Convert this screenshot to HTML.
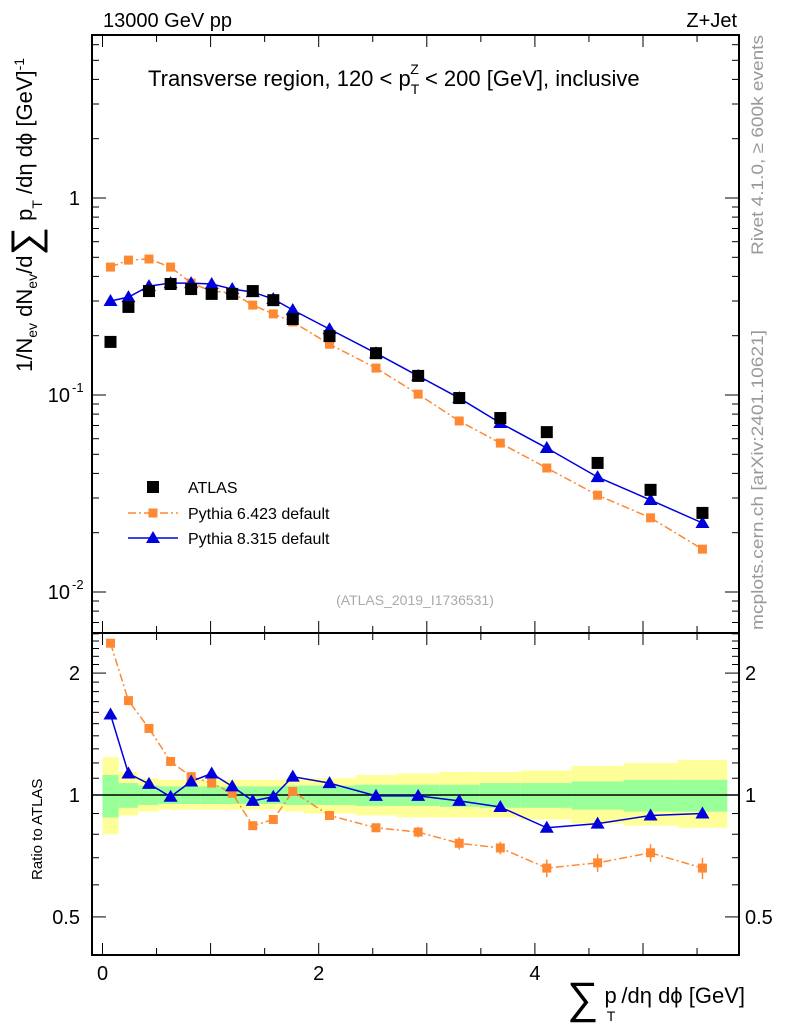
<!DOCTYPE html>
<html><head><meta charset="utf-8"><style>
body{margin:0;background:#fff;}
svg{display:block;font-family:"Liberation Sans",sans-serif;}
</style></head><body>
<svg id="c" width="786" height="1024" xmlns="http://www.w3.org/2000/svg">
<text x="103" y="27" font-size="20">13000 GeV pp</text>
<text x="737" y="27" font-size="20" text-anchor="end">Z+Jet</text>
<text x="148" y="86" font-size="22">Transverse region, 120 &lt; p<tspan font-size="14" dy="8">T</tspan><tspan font-size="14" dx="-9" dy="-20">Z</tspan><tspan dy="12"> &lt; 200 [GeV], inclusive</tspan></text>
<text transform="translate(763,255) rotate(-90)" font-size="17" fill="#999" textLength="220" lengthAdjust="spacingAndGlyphs">Rivet 4.1.0, ≥ 600k events</text>
<text transform="translate(763,630) rotate(-90)" font-size="17" fill="#999" textLength="300" lengthAdjust="spacingAndGlyphs">mcplots.cern.ch [arXiv:2401.10621]</text>
<text transform="translate(32,372) rotate(-90)" font-size="22">1/N<tspan font-size="14" dy="5">ev</tspan><tspan dy="-5"> dN</tspan><tspan font-size="14" dy="5">ev</tspan><tspan dy="-5">/d</tspan><tspan font-size="40" dy="7">∑</tspan><tspan dy="-7"> p</tspan><tspan font-size="14" dy="10">T</tspan><tspan dy="-10"> /dη dϕ  [GeV]</tspan><tspan font-size="14" dy="-8">-1</tspan></text>
<text transform="translate(42,880) rotate(-90)" font-size="15">Ratio to ATLAS</text>
<text x="745" y="1003" font-size="22" text-anchor="end"><tspan font-size="44" dy="10">∑</tspan><tspan dy="-10"> p</tspan><tspan font-size="14" dx="-10" dy="18">T</tspan><tspan dy="-18"> /dη dϕ [GeV]</tspan></text>
<text x="415" y="605" font-size="14" fill="#aaa" text-anchor="middle">(ATLAS_2019_I1736531)</text>
<g id="plot"></g>
</svg>
<script>
const xCenters=[0.074,0.24,0.43,0.63,0.82,1.01,1.20,1.39,1.58,1.76,2.10,2.53,2.92,3.30,3.68,4.11,4.58,5.07,5.55];
const binEdges=[0,0.15,0.33,0.52,0.72,0.91,1.1,1.3,1.49,1.68,1.86,2.34,2.72,3.12,3.49,3.87,4.34,4.82,5.32,5.78];
const atlas=[0.186,0.280,0.337,0.366,0.345,0.326,0.326,0.337,0.303,0.243,0.199,0.163,0.125,0.0965,0.0764,0.0648,0.0452,0.033,0.0252];
const py6=[0.446,0.484,0.490,0.446,0.370,0.337,0.330,0.286,0.258,0.235,0.181,0.137,0.101,0.0738,0.057,0.0426,0.031,0.0238,0.0165];
const py8=[0.300,0.314,0.357,0.370,0.370,0.366,0.345,0.333,0.307,0.270,0.216,0.163,0.125,0.0965,0.0721,0.0538,0.0383,0.0293,0.0224];
const r6=[2.37,1.71,1.46,1.21,1.11,1.07,1.01,0.84,0.87,1.02,0.89,0.83,0.81,0.76,0.74,0.66,0.68,0.72,0.66];
const r8=[1.58,1.13,1.065,0.99,1.08,1.13,1.05,0.967,0.99,1.11,1.07,0.995,0.995,0.967,0.934,0.83,0.85,0.89,0.90];
const greenHi=[1.12,1.07,1.055,1.05,1.05,1.05,1.05,1.05,1.05,1.055,1.055,1.06,1.06,1.06,1.07,1.07,1.08,1.09,1.09];
const greenLo=[0.88,0.93,0.945,0.95,0.95,0.95,0.95,0.95,0.95,0.945,0.945,0.94,0.94,0.935,0.93,0.93,0.92,0.91,0.91];
const yellowHi=[1.24,1.14,1.1,1.09,1.09,1.09,1.09,1.09,1.09,1.1,1.1,1.12,1.13,1.14,1.14,1.15,1.18,1.2,1.22];
const yellowLo=[0.80,0.89,0.91,0.92,0.92,0.92,0.92,0.92,0.92,0.91,0.90,0.89,0.88,0.88,0.88,0.87,0.85,0.84,0.83];
const err6=[0.01,0.01,0.01,0.01,0.01,0.01,0.01,0.02,0.02,0.02,0.02,0.025,0.03,0.035,0.035,0.05,0.05,0.05,0.06];
const xTickLabels=["0","2","4"];

const NS="http://www.w3.org/2000/svg";
const g=document.getElementById('plot');
function el(t,a,p){const e=document.createElementNS(NS,t);for(const k in a)e.setAttribute(k,a[k]);(p||g).appendChild(e);return e;}
const L=92,R=739,T=35,M=633,B=955;
const X=v=>102.5+v*108.1;
const Y=v=>198-197*Math.log10(v);
const YR=v=>795-405*Math.log10(v);

for(let i=0;i<greenHi.length;i++){
  let b=el('rect',{x:X(binEdges[i]),y:YR(yellowHi[i]),width:X(binEdges[i+1])-X(binEdges[i]),height:YR(yellowLo[i])-YR(yellowHi[i]),fill:'#ffff99'});
  
  
  let c=el('rect',{x:X(binEdges[i]),y:YR(greenHi[i]),width:X(binEdges[i+1])-X(binEdges[i]),height:YR(greenLo[i])-YR(greenHi[i]),fill:'#99ff99'});
  
  
}
let one=el('line',{x1:L,x2:R,y1:YR(1),y2:YR(1),stroke:'#000','stroke-width':1.5});



for(const [y1,y2] of [[T,M],[M,B]]){
  let f=el('rect',{x:L,y:y1,width:R-L,height:y2-y1,fill:'none',stroke:'#000','stroke-width':2});
  
  
}
for(let v=0;v<=5.5;v+=0.5){
  const len=Number.isInteger(v)?12:7;
  for(const [y0,s] of [[T,1],[M,-1],[M,1],[B,-1]]) el('line',{x1:X(v),x2:X(v),y1:y0,y2:y0+s*len,stroke:'#000','stroke-width':1});
}
xTickLabels.forEach((t,i)=>{let tx=el('text',{x:X(i*2),y:980,'font-size':20,'text-anchor':'middle'});tx.textContent=t;

});
for(let d=-3;d<=0;d++){for(let m=1;m<10;m++){const v=m*Math.pow(10,d);const y=Y(v);if(y<T||y>M)continue;const len=m==1?14:7;
 el('line',{x1:L,x2:L+len,y1:y,y2:y,stroke:'#000'});el('line',{x1:R,x2:R-len,y1:y,y2:y,stroke:'#000'});}}
let t1=el('text',{x:80,y:Y(1)+7,'font-size':20,'text-anchor':'end'});t1.textContent='1';


[[-1],[-2]].forEach(([e])=>{let t=el('text',{x:70,y:Y(Math.pow(10,e))+7,'font-size':20,'text-anchor':'end'});t.textContent='10';
 
 
 let s=el('text',{x:72,y:Y(Math.pow(10,e))-3,'font-size':13});s.textContent=String(e);});
for(let v=0.4;v<=2.6;v+=0.1){const y=YR(v);if(y<M||y>B)continue;const mj=Math.abs(v-0.5)<1e-6||Math.abs(v-1)<1e-6||Math.abs(v-2)<1e-6;const len=mj?14:7;
 el('line',{x1:L,x2:L+len,y1:y,y2:y,stroke:'#000'});el('line',{x1:R,x2:R-len,y1:y,y2:y,stroke:'#000'});}
[["2",2],["1",1],["0.5",0.5]].forEach(([s,v])=>{
 let a=el('text',{x:80,y:YR(v)+7,'font-size':20,'text-anchor':'end'});a.textContent=s;
 
 
 let b=el('text',{x:745,y:YR(v)+7,'font-size':20});b.textContent=s;
 
 });

function line(vals,fy,col,dash,name){
  let p=el('polyline',{points:vals.map((v,i)=>X(xCenters[i])+','+fy(v)).join(' '),fill:'none',stroke:col,'stroke-width':1.5,'stroke-dasharray':dash||''});
  
  
}
function sq(x,y,s,col,name){let r=el('rect',{x:x-s/2,y:y-s/2,width:s,height:s,fill:col});
 
 }
function tri(x,y,col,name){let p=el('polygon',{points:`${x},${y-7} ${x-7},${y+5} ${x+7},${y+5}`,fill:col});
 
 }

line(py6,Y,'#ff8833','8,3,2,3','pythia6-line');
line(py8,Y,'#0000dd','','pythia8-line');
py6.forEach((v,i)=>sq(X(xCenters[i]),Y(v),9,'#ff8833','pythia6-point'));
py8.forEach((v,i)=>tri(X(xCenters[i]),Y(v),'#0000dd','pythia8-point'));
atlas.forEach((v,i)=>sq(X(xCenters[i]),Y(v),12,'#000','atlas-point'));
line(r6,YR,'#ff8833','8,3,2,3','pythia6-ratio-line');
line(r8,YR,'#0000dd','','pythia8-ratio-line');
r6.forEach((v,i)=>{const x=X(xCenters[i]);el('line',{x1:x,x2:x,y1:YR(v*(1+err6[i])),y2:YR(v*(1-err6[i])),stroke:'#ff8833','stroke-width':1.5});sq(x,YR(v),9,'#ff8833','pythia6-ratio-point');});
r8.forEach((v,i)=>tri(X(xCenters[i]),YR(v),'#0000dd','pythia8-ratio-point'));

sq(153,487,12,'#000','legend-atlas-marker');
el('line',{x1:128,x2:178,y1:513,y2:513,stroke:'#ff8833','stroke-width':1.5,'stroke-dasharray':'8,3,2,3'});
sq(153,513,9,'#ff8833','legend-pythia6-marker');
el('line',{x1:128,x2:178,y1:538,y2:538,stroke:'#0000dd','stroke-width':1.5});
tri(153,538,'#0000dd','legend-pythia8-marker');
[["ATLAS",493],["Pythia 6.423 default",519],["Pythia 8.315 default",544]].forEach(([s,y])=>{let t=el('text',{x:188,y:y,'font-size':16});t.textContent=s;
 
 });
</script>
</body></html>
